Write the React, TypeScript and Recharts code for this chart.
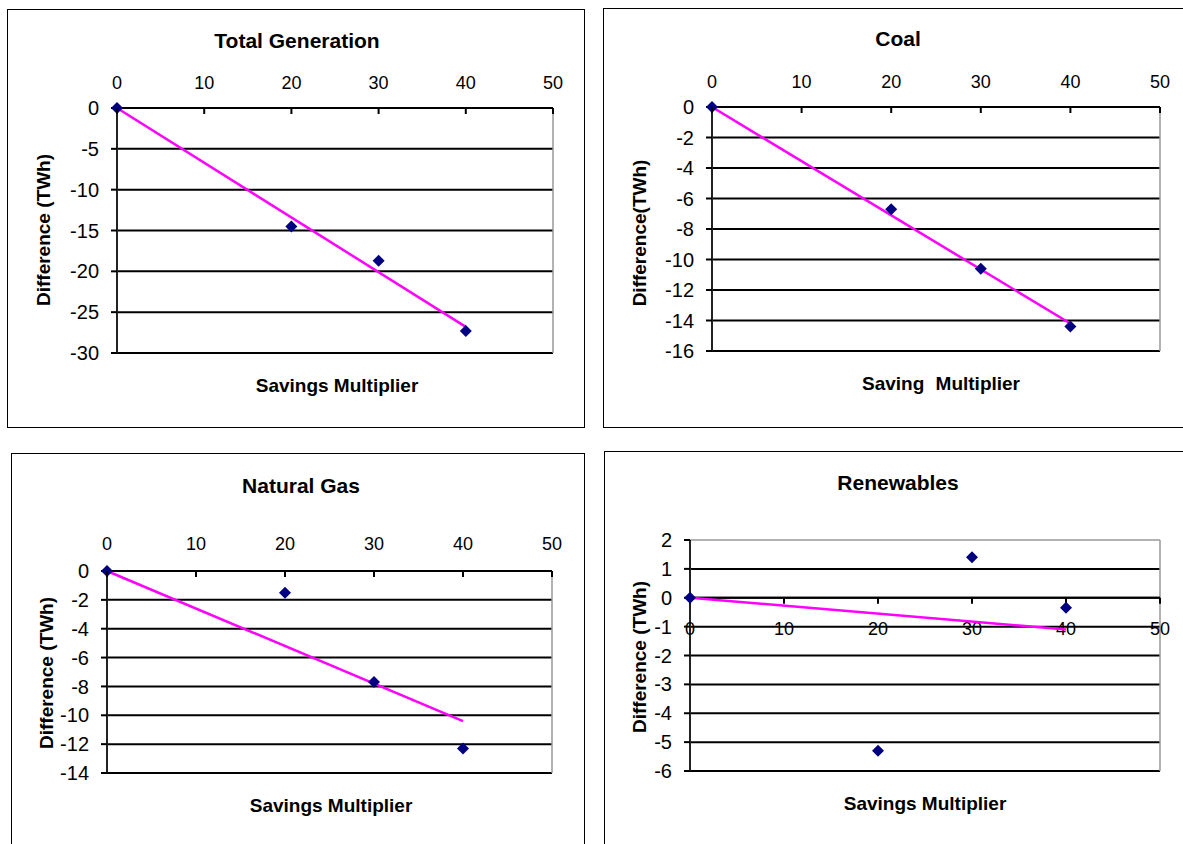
import React from 'react';
import { ScatterChart, Scatter, XAxis, YAxis, ReferenceLine, ReferenceDot } from 'recharts';

// shared x values
const multipliers = [0, 20, 30, 40];
const trendX = [0, 40];
const xTicks = [0, 10, 20, 30, 40, 50];

// Total Generation
const totalGeneration = [0, -14.5, -18.7, -27.3];
const totalTrend = [0, -26.8];
const totalTicks = [0, -5, -10, -15, -20, -25, -30];

// Coal
const coal = [0, -6.7, -10.6, -14.4];
const coalTrend = [0, -14.2];
const coalTicks = [0, -2, -4, -6, -8, -10, -12, -14, -16];

// Natural Gas
const naturalGas = [0, -1.5, -7.7, -12.3];
const gasTrend = [0, -10.4];
const gasTicks = [0, -2, -4, -6, -8, -10, -12, -14];

// Renewables
const renewables = [0, -5.3, 1.4, -0.35];
const renewTrend = [0, -1.1];
const renewTicks = [2, 1, 0, -1, -2, -3, -4, -5, -6];

const FONT = '"Liberation Sans", Arial, sans-serif';
const MARKER = '#000080';
const TREND = '#FF00FF';

const toPoints = (xs: number[], ys: number[]) => xs.map((x, i) => ({ x, y: ys[i] }));

const Diamond = (p: any) => {
  const { cx, cy } = p;
  const r = 6;
  return <polygon points={`${cx},${cy - r} ${cx + r},${cy} ${cx},${cy + r} ${cx - r},${cy}`} fill={MARKER} />;
};

const NoShape = () => <g />;

// labels above the axis, tick marks pointing down into the plot
const TopTick = (p: any) => {
  const { x, y, payload, gap } = p;
  return (
    <g>
      <line x1={x} x2={x} y1={y + gap} y2={y + gap + 6} stroke="#000" strokeWidth={2} />
      <text x={x} y={y} textAnchor="middle" fontSize={18} fill="#000" fontFamily={FONT}>
        {payload.value}
      </text>
    </g>
  );
};

// x axis crossing at zero (Renewables)
const ZeroTick = (p: any) => {
  const { cx, cy, label } = p;
  return (
    <g>
      <line x1={cx} x2={cx} y1={cy} y2={cy + 6} stroke="#000" strokeWidth={2} />
      <text x={cx} y={cy + 37} textAnchor="middle" fontSize={18} fill="#000" fontFamily={FONT}>
        {label}
      </text>
    </g>
  );
};

type Box = { l: number; t: number; w: number; h: number };
type Plot = { x0: number; x1: number; y0: number; y1: number };

type PanelCfg = {
  title: string;
  yTitle: string;
  xTitle: string;
  values: number[];
  trend: number[];
  yTicks: number[];
  frame: Box;
  plot: Plot;
  zeroAxis?: boolean;
  titleAt: [number, number];
  xTitleAt: [number, number];
  yTitleAt: [number, number];
  labelGap: number;
  xTitleSpacing?: number;
};

const panels: PanelCfg[] = [
  {
    title: 'Total Generation',
    yTitle: 'Difference (TWh)',
    xTitle: 'Savings Multiplier',
    values: totalGeneration,
    trend: totalTrend,
    yTicks: totalTicks,
    frame: { l: 7, t: 9, w: 578, h: 419 },
    plot: { x0: 117, x1: 553, y0: 108, y1: 353 },
    titleAt: [297, 41],
    xTitleAt: [337, 386],
    yTitleAt: [44, 230],
    labelGap: 19,
  },
  {
    title: 'Coal',
    yTitle: 'Difference(TWh)',
    xTitle: 'Saving Multiplier',
    values: coal,
    trend: coalTrend,
    yTicks: coalTicks,
    frame: { l: 603, t: 8, w: 590, h: 420 },
    plot: { x0: 712, x1: 1160, y0: 107, y1: 351 },
    titleAt: [898, 39],
    xTitleAt: [941, 384],
    yTitleAt: [640, 233],
    labelGap: 19,
    xTitleSpacing: 6,
  },
  {
    title: 'Natural Gas',
    yTitle: 'Difference (TWh)',
    xTitle: 'Savings Multiplier',
    values: naturalGas,
    trend: gasTrend,
    yTicks: gasTicks,
    frame: { l: 11, t: 453, w: 574, h: 400 },
    plot: { x0: 107, x1: 552, y0: 571, y1: 773 },
    titleAt: [301, 486],
    xTitleAt: [331, 806],
    yTitleAt: [47, 673],
    labelGap: 21,
  },
  {
    title: 'Renewables',
    yTitle: 'Difference (TWh)',
    xTitle: 'Savings Multiplier',
    values: renewables,
    trend: renewTrend,
    yTicks: renewTicks,
    frame: { l: 604, t: 451, w: 590, h: 402 },
    plot: { x0: 690, x1: 1160, y0: 540, y1: 771 },
    zeroAxis: true,
    titleAt: [898, 483],
    xTitleAt: [925, 804],
    yTitleAt: [640, 657],
    labelGap: 19,
  },
];

const Panel = ({ cfg }: { cfg: PanelCfg }) => {
  const { frame, plot, yTicks } = cfg;
  const yAxisW = 60;
  const xAxisH = cfg.zeroAxis ? 0 : 30;
  const margin = {
    left: plot.x0 - frame.l - yAxisW,
    right: frame.l + frame.w - plot.x1,
    top: plot.y0 - frame.t - xAxisH,
    bottom: frame.t + frame.h - plot.y1,
  };
  const yMax = yTicks[0];
  const yMin = yTicks[yTicks.length - 1];
  const gridValues = yTicks.slice(1);
  const points = toPoints(multipliers, cfg.values);
  const trend = toPoints(trendX, cfg.trend);

  const textBase: React.CSSProperties = {
    position: 'absolute',
    fontFamily: FONT,
    fontWeight: 'bold',
    whiteSpace: 'nowrap',
    color: '#000',
  };

  return (
    <>
      <div
        style={{
          position: 'absolute',
          left: frame.l,
          top: frame.t,
          width: frame.w,
          height: frame.h,
          border: '1px solid #000',
          boxSizing: 'border-box',
        }}
      />
      <div style={{ position: 'absolute', left: frame.l, top: frame.t }}>
        <ScatterChart width={frame.w} height={frame.h} margin={margin} style={{ fontFamily: FONT }}>
          {cfg.zeroAxis ? (
            <XAxis type="number" dataKey="x" domain={[0, 50]} ticks={xTicks} hide />
          ) : (
            <XAxis
              type="number"
              dataKey="x"
              domain={[0, 50]}
              ticks={xTicks}
              interval={0}
              orientation="top"
              height={xAxisH}
              axisLine={{ stroke: '#000', strokeWidth: 2 }}
              tickLine={false}
              tickSize={0}
              tickMargin={cfg.labelGap}
              tick={(p: any) => <TopTick {...p} gap={cfg.labelGap} />}
            />
          )}
          <YAxis
            type="number"
            dataKey="y"
            domain={[yMin, yMax]}
            ticks={yTicks}
            interval={0}
            width={yAxisW}
            axisLine={{ stroke: '#222', strokeWidth: 2 }}
            tickLine={{ stroke: '#000', strokeWidth: 2 }}
            tickSize={6}
            tickMargin={12}
            tick={{ fontSize: 20, fill: '#000' }}
          />
          {gridValues.map((v) => (
            <ReferenceLine key={`g${v}`} y={v} stroke="#000" strokeWidth={2} />
          ))}
          <ReferenceLine x={50} stroke="#999" strokeWidth={1.5} />
          {cfg.zeroAxis && <ReferenceLine y={yMax} stroke="#999" strokeWidth={1.5} />}
          {cfg.zeroAxis && <ReferenceLine y={0} stroke="#000" strokeWidth={2} />}
          {cfg.zeroAxis &&
            xTicks.map((v) => (
              <ReferenceDot key={v} x={v} y={0} r={0} shape={(p: any) => <ZeroTick {...p} label={v} />} />
            ))}
          <Scatter data={trend} line={{ stroke: TREND, strokeWidth: 2.5 }} shape={NoShape} isAnimationActive={false} />
          <Scatter data={points} fill={MARKER} shape={Diamond} isAnimationActive={false} />
        </ScatterChart>
      </div>
      <div style={{ ...textBase, left: cfg.titleAt[0], top: cfg.titleAt[1], fontSize: 21, transform: 'translate(-50%, -50%)' }}>
        {cfg.title}
      </div>
      <div
        style={{
          ...textBase,
          left: cfg.xTitleAt[0],
          top: cfg.xTitleAt[1],
          fontSize: 19,
          wordSpacing: cfg.xTitleSpacing ?? 0,
          transform: 'translate(-50%, -50%)',
        }}
      >
        {cfg.xTitle}
      </div>
      <div
        style={{
          ...textBase,
          left: cfg.yTitleAt[0],
          top: cfg.yTitleAt[1],
          fontSize: 19,
          transform: 'translate(-50%, -50%) rotate(-90deg)',
        }}
      >
        {cfg.yTitle}
      </div>
    </>
  );
};

export default function App() {
  return (
    <div style={{ position: 'absolute', left: 0, top: 0, width: 1183, height: 844, background: '#fff', overflow: 'hidden' }}>
      {panels.map((cfg) => (
        <Panel key={cfg.title} cfg={cfg} />
      ))}
    </div>
  );
}
